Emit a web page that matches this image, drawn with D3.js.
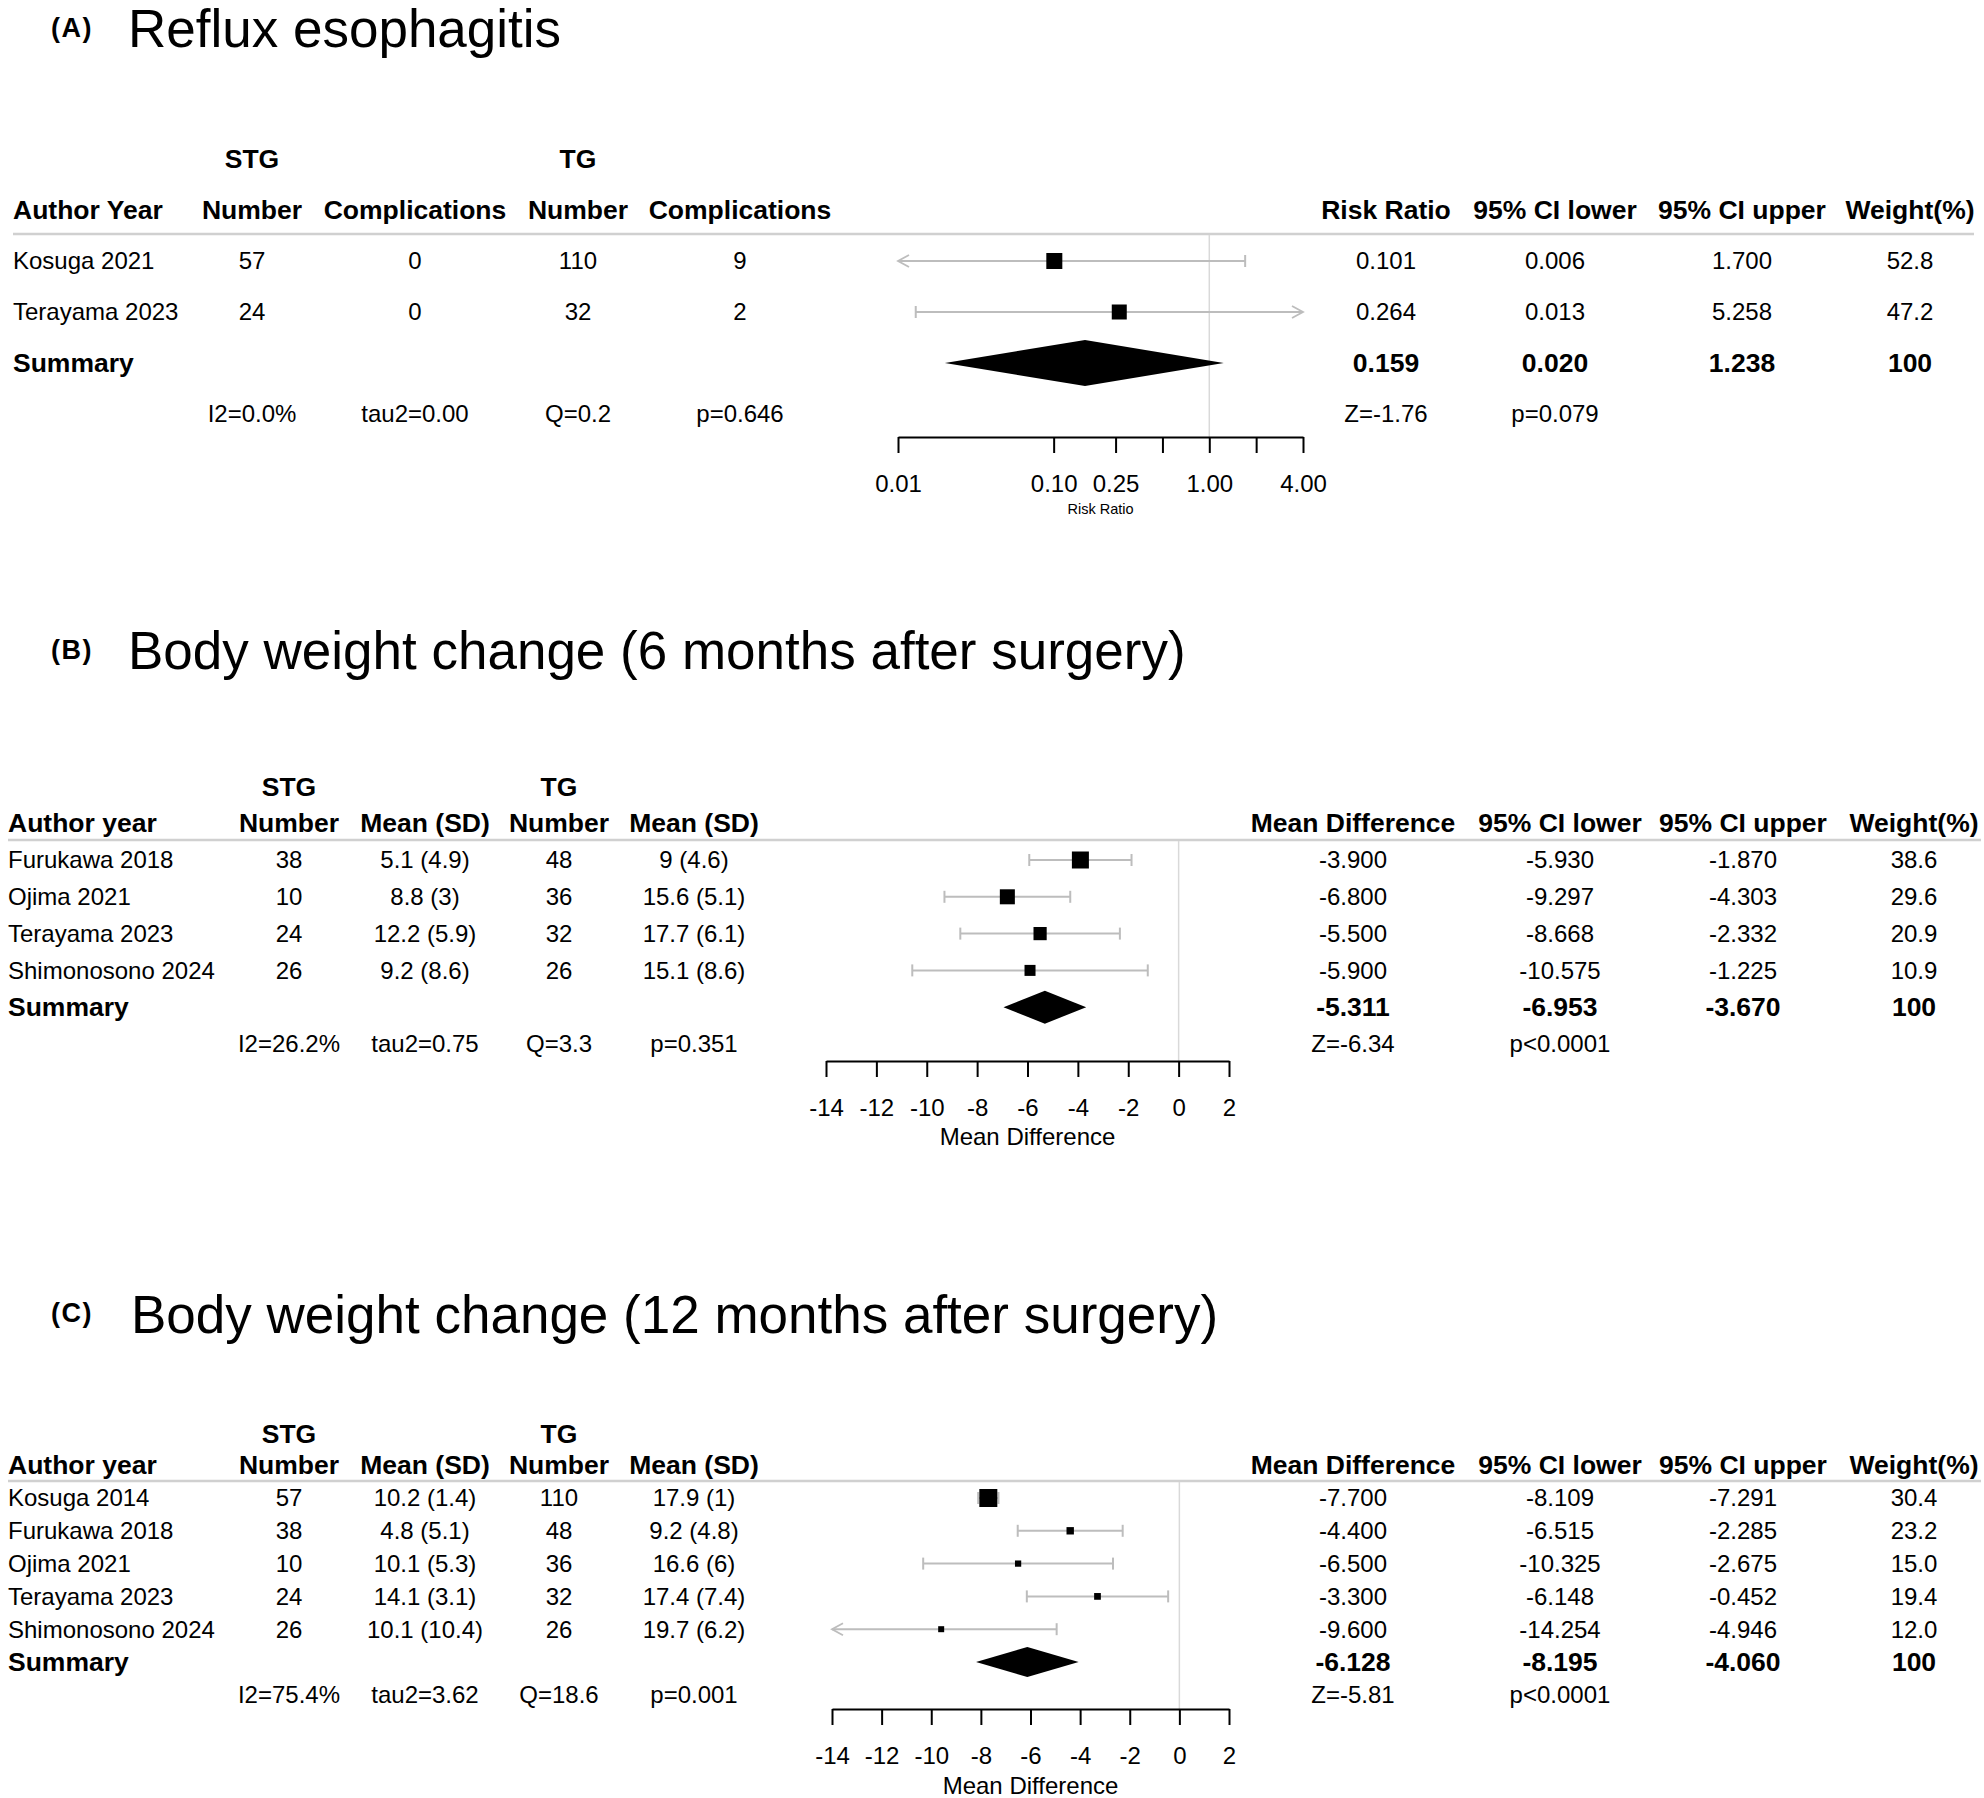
<!DOCTYPE html>
<html><head><meta charset="utf-8">
<script src="https://cdn.jsdelivr.net/npm/d3@7"></script>
<style>
body{margin:0;background:#fff}
svg{display:block}
text{font-family:"Liberation Sans",Arial,Helvetica,sans-serif;fill:#000}
</style>
</head><body>
<svg id="chart" width="1984" height="1798"></svg>
<script>
// ---------------- DATA ----------------
// Panel A: Reflux esophagitis
const A_title = "Reflux esophagitis";
const A_studies = ["Kosuga 2021", "Terayama 2023"];
const A_stgNumber = [57, 24];
const A_stgComplications = [0, 0];
const A_tgNumber = [110, 32];
const A_tgComplications = [9, 2];
const A_estimate = [0.101, 0.264];
const A_lower = [0.006, 0.013];
const A_upper = [1.700, 5.258];
const A_weight = [52.8, 47.2];
const A_summary = [0.159, 0.020, 1.238, 100];
const A_heterogeneity = ["I2=0.0%", "tau2=0.00", "Q=0.2", "p=0.646"];
const A_overallTest = ["Z=-1.76", "p=0.079"];
const A_tickValues = [0.01, 0.1, 0.25, 0.5, 1, 2, 4];
const A_tickLabels = ["0.01", "0.10", "0.25", "", "1.00", "", "4.00"];
const A_axisTitle = "Risk Ratio";

// Panel B: Body weight change (6 months)
const B_title = "Body weight change (6 months after surgery)";
const B_studies = ["Furukawa 2018", "Ojima 2021", "Terayama 2023", "Shimonosono 2024"];
const B_stgNumber = [38, 10, 24, 26];
const B_stgMean = [5.1, 8.8, 12.2, 9.2];
const B_stgSD = [4.9, 3, 5.9, 8.6];
const B_tgNumber = [48, 36, 32, 26];
const B_tgMean = [9, 15.6, 17.7, 15.1];
const B_tgSD = [4.6, 5.1, 6.1, 8.6];
const B_estimate = [-3.900, -6.800, -5.500, -5.900];
const B_lower = [-5.930, -9.297, -8.668, -10.575];
const B_upper = [-1.870, -4.303, -2.332, -1.225];
const B_weight = [38.6, 29.6, 20.9, 10.9];
const B_summary = [-5.311, -6.953, -3.670, 100];
const B_heterogeneity = ["I2=26.2%", "tau2=0.75", "Q=3.3", "p=0.351"];
const B_overallTest = ["Z=-6.34", "p<0.0001"];
const B_tickValues = [-14, -12, -10, -8, -6, -4, -2, 0, 2];
const B_axisTitle = "Mean Difference";

// Panel C: Body weight change (12 months)
const C_title = "Body weight change (12 months after surgery)";
const C_studies = ["Kosuga 2014", "Furukawa 2018", "Ojima 2021", "Terayama 2023", "Shimonosono 2024"];
const C_stgNumber = [57, 38, 10, 24, 26];
const C_stgMean = [10.2, 4.8, 10.1, 14.1, 10.1];
const C_stgSD = [1.4, 5.1, 5.3, 3.1, 10.4];
const C_tgNumber = [110, 48, 36, 32, 26];
const C_tgMean = [17.9, 9.2, 16.6, 17.4, 19.7];
const C_tgSD = [1, 4.8, 6, 7.4, 6.2];
const C_estimate = [-7.700, -4.400, -6.500, -3.300, -9.600];
const C_lower = [-8.109, -6.515, -10.325, -6.148, -14.254];
const C_upper = [-7.291, -2.285, -2.675, -0.452, -4.946];
const C_weight = [30.4, 23.2, 15.0, 19.4, 12.0];
const C_summary = [-6.128, -8.195, -4.060, 100];
const C_heterogeneity = ["I2=75.4%", "tau2=3.62", "Q=18.6", "p=0.001"];
const C_overallTest = ["Z=-5.81", "p<0.0001"];
const C_tickValues = [-14, -12, -10, -8, -6, -4, -2, 0, 2];
const C_axisTitle = "Mean Difference";

const groupLabels = ["STG", "TG"];
const A_colHeaders = ["Number", "Complications", "Number", "Complications"];
const MD_colHeaders = ["Number", "Mean (SD)", "Number", "Mean (SD)"];
const A_rightHeaders = ["Risk Ratio", "95% CI lower", "95% CI upper", "Weight(%)"];
const MD_rightHeaders = ["Mean Difference", "95% CI lower", "95% CI upper", "Weight(%)"];

// ---------------- DRAWING ----------------
const svg = d3.select("#chart");
svg.append("rect").attr("width", 1984).attr("height", 1798).attr("fill", "#fff");
const REG = 24, BOLD = 26.5;
const GRAY = "#bdbdbd";
const locale = d3.formatLocale({decimal: ".", thousands: ",", grouping: [3], currency: ["", ""], minus: "-"});
const f3 = locale.format(".3f"), f1 = locale.format(".1f");

function txt(g, x, y, s, o = {}) {
  return g.append("text").attr("x", x).attr("y", y).attr("dy", "0.35em")
    .attr("text-anchor", o.anchor || "middle")
    .attr("font-size", o.size || REG)
    .attr("font-weight", o.bold ? "bold" : "normal")
    .text(s);
}

function drawPanel(cfg) {
  const g = svg.append("g");
  // title
  txt(g, cfg.labelX, cfg.titleMid, cfg.letter, {anchor: "start", size: 27, bold: true})
    .attr("letter-spacing", 1.5);
  g.append("text").attr("x", cfg.titleX).attr("y", cfg.titleBase)
    .attr("font-size", 53).text(cfg.title);

  // group labels
  txt(g, cfg.leftCols[0], cfg.groupY, groupLabels[0], {size: BOLD, bold: true});
  txt(g, cfg.leftCols[2], cfg.groupY, groupLabels[1], {size: BOLD, bold: true});
  // header row
  txt(g, cfg.authorX, cfg.headY, cfg.authorHeader, {anchor: "start", size: BOLD, bold: true});
  cfg.colHeaders.forEach((h, i) => txt(g, cfg.leftCols[i], cfg.headY, h, {size: BOLD, bold: true}));
  cfg.rightHeaders.forEach((h, i) => txt(g, cfg.rightCols[i], cfg.headY, h, {size: BOLD, bold: true}));
  g.append("line").attr("x1", cfg.authorX).attr("x2", cfg.lineX2)
    .attr("y1", cfg.lineY).attr("y2", cfg.lineY)
    .attr("stroke", "#d0d0d0").attr("stroke-width", 2.5);

  const n = cfg.studies.length;
  const rowY = i => cfg.rowY0 + i * cfg.rowStep;
  const x = cfg.x;
  const [d0, d1] = x.domain();

  // reference line
  g.append("line").attr("x1", x(cfg.refValue)).attr("x2", x(cfg.refValue))
    .attr("y1", cfg.lineY + 1).attr("y2", cfg.axisY)
    .attr("stroke", "#d9d9d9").attr("stroke-width", 1.5);

  // box size from inverse-variance weight
  const toT = cfg.log ? Math.log : (v => v);
  const ivw = cfg.studies.map((s, i) => {
    const se = (toT(cfg.upper[i]) - toT(cfg.lower[i])) / 3.92;
    return 1 / (se * se);
  });
  const box = d3.scaleSqrt().domain(d3.extent(ivw)).range(cfg.boxRange);

  cfg.studies.forEach((s, i) => {
    const y = rowY(i);
    txt(g, cfg.authorX, y, s, {anchor: "start"});
    cfg.leftValues[i].forEach((v, j) => txt(g, cfg.leftCols[j], y, v));
    [f3(cfg.estimate[i]), f3(cfg.lower[i]), f3(cfg.upper[i]), f1(cfg.weight[i])]
      .forEach((v, j) => txt(g, cfg.rightCols[j], y, v));

    // CI line
    const lo = cfg.lower[i], hi = cfg.upper[i];
    const xl = x(Math.max(lo, d0)), xh = x(Math.min(hi, d1));
    g.append("line").attr("x1", xl).attr("x2", xh).attr("y1", y).attr("y2", y)
      .attr("stroke", GRAY).attr("stroke-width", 2);
    const cap = 6;
    if (lo < d0) {
      g.append("path").attr("d", `M${xl + 11},${y - cap}L${xl},${y}L${xl + 11},${y + cap}`)
        .attr("fill", "none").attr("stroke", GRAY).attr("stroke-width", 1.8);
    } else {
      g.append("line").attr("x1", xl).attr("x2", xl).attr("y1", y - cap).attr("y2", y + cap)
        .attr("stroke", GRAY).attr("stroke-width", 2);
    }
    if (hi > d1) {
      g.append("path").attr("d", `M${xh - 11},${y - cap}L${xh},${y}L${xh - 11},${y + cap}`)
        .attr("fill", "none").attr("stroke", GRAY).attr("stroke-width", 1.8);
    } else {
      g.append("line").attr("x1", xh).attr("x2", xh).attr("y1", y - cap).attr("y2", y + cap)
        .attr("stroke", GRAY).attr("stroke-width", 2);
    }
    const b = box(ivw[i]);
    g.append("rect").attr("x", x(cfg.estimate[i]) - b / 2).attr("y", y - b / 2)
      .attr("width", b).attr("height", b).attr("fill", "#000");
  });

  // summary
  const ys = rowY(n);
  txt(g, cfg.authorX, ys, "Summary", {anchor: "start", size: BOLD, bold: true});
  const [se, sl, su, sw] = cfg.summary;
  [f3(se), f3(sl), f3(su), String(sw)].forEach((v, j) => txt(g, cfg.rightCols[j], ys, v, {size: BOLD, bold: true}));
  const hh = cfg.diamondH / 2;
  g.append("path")
    .attr("d", `M${x(sl)},${ys}L${x(se)},${ys - hh}L${x(su)},${ys}L${x(se)},${ys + hh}Z`)
    .attr("fill", "#000");

  // stats row
  const yt = rowY(n + 1);
  cfg.heterogeneity.forEach((v, j) => txt(g, cfg.leftCols[j], yt, v));
  cfg.overallTest.forEach((v, j) => txt(g, cfg.rightCols[j], yt, v));

  // axis
  const axis = d3.axisBottom(x).tickValues(cfg.tickValues).tickSize(16).tickSizeOuter(0).tickPadding(22)
    .tickFormat((d, i) => cfg.tickLabels[i]);
  const ag = g.append("g").attr("transform", `translate(0,${cfg.axisY})`).call(axis);
  ag.select(".domain").attr("stroke", "#000").attr("stroke-width", 2);
  ag.selectAll(".tick line").attr("stroke", "#000").attr("stroke-width", 2);
  ag.selectAll(".tick text").attr("font-size", REG).attr("font-family", '"Liberation Sans",Arial,sans-serif').attr("fill", "#000");
  txt(g, (x.range()[0] + x.range()[1]) / 2, cfg.axisTitleY, cfg.axisTitle, {size: cfg.axisTitleSize});
}

const mdStr = (m, s) => `${m} (${s})`;

drawPanel({
  letter: "(A)", title: A_title, labelX: 51, titleX: 128, titleMid: 28, titleBase: 47,
  groupY: 159, headY: 210, lineY: 234, rowY0: 261, rowStep: 51, axisY: 437, axisTitleY: 509,
  authorX: 13, lineX2: 1974, authorHeader: "Author Year",
  leftCols: [252, 415, 578, 740], rightCols: [1386, 1555, 1742, 1910],
  colHeaders: A_colHeaders, rightHeaders: A_rightHeaders,
  studies: A_studies,
  leftValues: A_studies.map((s, i) => [A_stgNumber[i], A_stgComplications[i], A_tgNumber[i], A_tgComplications[i]]),
  estimate: A_estimate, lower: A_lower, upper: A_upper, weight: A_weight,
  summary: A_summary, heterogeneity: A_heterogeneity, overallTest: A_overallTest,
  x: d3.scaleLog().domain([0.01, 4]).range([898, 1303]), log: true, refValue: 1,
  tickValues: A_tickValues, tickLabels: A_tickLabels, axisTitle: A_axisTitle, axisTitleSize: 14.5,
  boxRange: [15, 16], diamondH: 46
});

drawPanel({
  letter: "(B)", title: B_title, labelX: 51, titleX: 128, titleMid: 650, titleBase: 669,
  groupY: 787, headY: 823, lineY: 840, rowY0: 860, rowStep: 36.8, axisY: 1061, axisTitleY: 1137,
  authorX: 8, lineX2: 1981, authorHeader: "Author year",
  leftCols: [289, 425, 559, 694], rightCols: [1353, 1560, 1743, 1914],
  colHeaders: MD_colHeaders, rightHeaders: MD_rightHeaders,
  studies: B_studies,
  leftValues: B_studies.map((s, i) => [B_stgNumber[i], mdStr(B_stgMean[i], B_stgSD[i]), B_tgNumber[i], mdStr(B_tgMean[i], B_tgSD[i])]),
  estimate: B_estimate, lower: B_lower, upper: B_upper, weight: B_weight,
  summary: B_summary, heterogeneity: B_heterogeneity, overallTest: B_overallTest,
  x: d3.scaleLinear().domain([-14, 2]).range([826, 1229]), log: false, refValue: 0,
  tickValues: B_tickValues, tickLabels: B_tickValues.map(String), axisTitle: B_axisTitle, axisTitleSize: REG,
  boxRange: [11, 17], diamondH: 33
});

drawPanel({
  letter: "(C)", title: C_title, labelX: 51, titleX: 131, titleMid: 1313, titleBase: 1333,
  groupY: 1434, headY: 1465, lineY: 1481, rowY0: 1498, rowStep: 32.8, axisY: 1709, axisTitleY: 1786,
  authorX: 8, lineX2: 1981, authorHeader: "Author year",
  leftCols: [289, 425, 559, 694], rightCols: [1353, 1560, 1743, 1914],
  colHeaders: MD_colHeaders, rightHeaders: MD_rightHeaders,
  studies: C_studies,
  leftValues: C_studies.map((s, i) => [C_stgNumber[i], mdStr(C_stgMean[i], C_stgSD[i]), C_tgNumber[i], mdStr(C_tgMean[i], C_tgSD[i])]),
  estimate: C_estimate, lower: C_lower, upper: C_upper, weight: C_weight,
  summary: C_summary, heterogeneity: C_heterogeneity, overallTest: C_overallTest,
  x: d3.scaleLinear().domain([-14, 2]).range([832, 1229]), log: false, refValue: 0,
  tickValues: C_tickValues, tickLabels: C_tickValues.map(String), axisTitle: C_axisTitle, axisTitleSize: REG,
  boxRange: [6, 18], diamondH: 30
});
</script>
</body></html>
